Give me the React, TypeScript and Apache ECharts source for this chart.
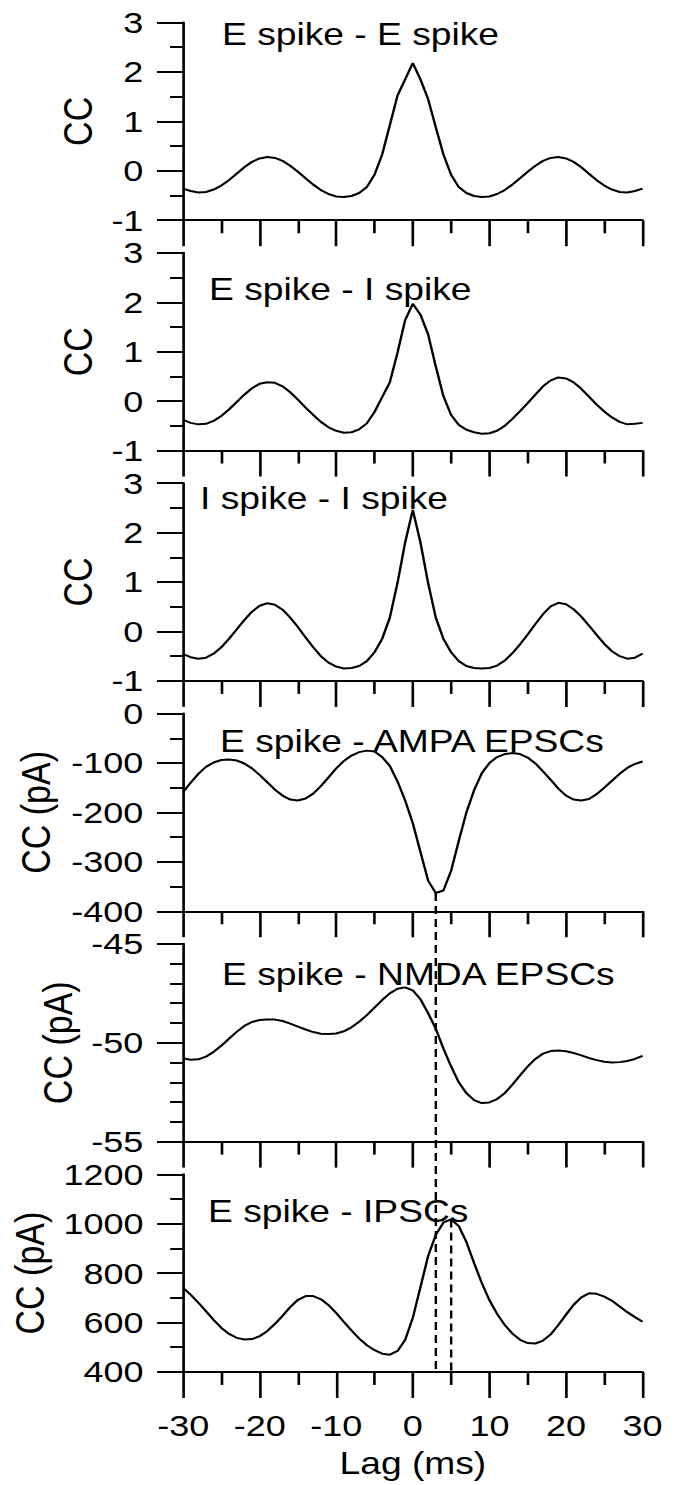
import React, { useEffect, useRef } from "react";
import * as echarts from "echarts";

// ---------- data (lag in ms, cross-correlations) ----------
const LAG_MS = [
  -30, -29, -28, -27, -26, -25, -24, -23, -22, -21,
  -20, -19, -18, -17, -16, -15, -14, -13, -12, -11,
  -10, -9, -8, -7, -6, -5, -4, -3, -2, -1,
  0,
  1, 2, 3, 4, 5, 6, 7, 8, 9, 10,
  11, 12, 13, 14, 15, 16, 17, 18, 19, 20,
  21, 22, 23, 24, 25, 26, 27, 28, 29, 30,
];

const EE_CC = [
  -0.36, -0.41, -0.44, -0.43, -0.38, -0.3, -0.19, -0.06, 0.07, 0.18,
  0.25, 0.28, 0.26, 0.2, 0.1, -0.02, -0.15, -0.28, -0.39, -0.47,
  -0.52, -0.53, -0.51, -0.45, -0.33, -0.08, 0.33, 0.92, 1.52, 1.85,
  2.18,
  1.85, 1.45, 0.88, 0.33, -0.08, -0.33, -0.45, -0.51, -0.53, -0.52,
  -0.47, -0.39, -0.28, -0.15, -0.02, 0.1, 0.2, 0.26, 0.28, 0.25,
  0.18, 0.07, -0.06, -0.19, -0.3, -0.38, -0.43, -0.44, -0.41, -0.36,
];

const EI_CC = [
  -0.38, -0.44, -0.47, -0.46, -0.4, -0.3, -0.17, -0.02, 0.13, 0.26,
  0.35, 0.38, 0.37, 0.3, 0.18, 0.03, -0.13, -0.28, -0.42, -0.53,
  -0.6, -0.64, -0.63, -0.57, -0.45, -0.22, 0.08, 0.38, 0.98, 1.64,
  1.97,
  1.75, 1.35, 0.7, 0.1, -0.28, -0.48, -0.58, -0.63, -0.66, -0.65,
  -0.6, -0.5, -0.36, -0.2, -0.04, 0.13, 0.3, 0.42, 0.48, 0.46,
  0.38, 0.25, 0.09, -0.07, -0.21, -0.33, -0.42, -0.47, -0.46, -0.44,
];

const II_CC = [
  -0.46, -0.52, -0.55, -0.53, -0.45, -0.32, -0.15, 0.04, 0.23, 0.4,
  0.52, 0.57, 0.54, 0.44, 0.28, 0.09, -0.12, -0.32, -0.5, -0.63,
  -0.71, -0.75, -0.74, -0.7, -0.6, -0.42, -0.15, 0.28, 0.98, 1.8,
  2.46,
  1.8, 0.98, 0.28, -0.15, -0.42, -0.6, -0.7, -0.74, -0.75, -0.74,
  -0.69, -0.59, -0.44, -0.26, -0.06, 0.15, 0.35, 0.51, 0.58, 0.55,
  0.45, 0.3, 0.12, -0.07, -0.25, -0.4, -0.5, -0.55, -0.53, -0.45,
];

const AMPA_CC = [
  -159, -140, -122, -108, -99, -94, -93, -95, -101, -111,
  -124, -139, -154, -166, -174, -176, -172, -162, -147, -129,
  -111, -96, -85, -78, -75, -77, -88, -106, -137, -176,
  -222,
  -280, -338, -363, -358, -318, -258, -200, -155, -121, -100,
  -88, -82, -80, -82, -89, -101, -117, -134, -152, -166,
  -174, -176, -173, -163, -150, -136, -122, -110, -102, -97,
];

const NMDA_CC = [
  -50.78, -50.86, -50.84, -50.7, -50.46, -50.15, -49.8, -49.45, -49.15, -48.95,
  -48.85, -48.82, -48.83, -48.9, -49.03, -49.18, -49.33, -49.46, -49.54, -49.56,
  -49.53, -49.42, -49.22, -48.94, -48.6, -48.22, -47.84, -47.5, -47.27, -47.2,
  -47.35,
  -47.8, -48.5, -49.3, -50.3, -51.2, -52.0, -52.55, -52.9, -53.05, -53.02,
  -52.85, -52.55, -52.12, -51.65, -51.2, -50.82, -50.55, -50.42, -50.39, -50.43,
  -50.52, -50.64, -50.77, -50.88, -50.96, -51.0, -50.98, -50.92, -50.82, -50.66,
];

const IPSC_CC = [
  740, 712, 680, 645, 610, 578, 554, 538, 531, 533,
  545, 566, 595, 628, 663, 692, 707, 707, 694, 670,
  638, 602, 567, 535, 508, 488, 474, 470, 485, 530,
  620,
  745, 870, 955, 1005, 1017, 990, 925, 840, 760, 690,
  635, 590, 555, 530, 517, 515, 527, 552, 590, 632,
  672, 702, 718, 716, 705, 688, 665, 642, 622, 603,
];

const SERIES_VALUES = [EE_CC, EI_CC, II_CC, AMPA_CC, NMDA_CC, IPSC_CC];
const PANEL_TITLES = [
  "E spike - E spike",
  "E spike - I spike",
  "I spike - I spike",
  "E spike - AMPA EPSCs",
  "E spike - NMDA EPSCs",
  "E spike - IPSCs",
];
const Y_NAMES = ["CC", "CC", "CC", "CC (pA)", "CC (pA)", "CC (pA)"];
const Y_MIN = [-1, -1, -1, -400, -55, 400];
const Y_MAX = [3, 3, 3, 0, -45, 1200];
const Y_INTERVAL = [1, 1, 1, 100, 5, 200];
const Y_MINOR_SPLIT = [2, 2, 2, 2, 5, 2];
const X_MIN = -30;
const X_MAX = 30;
const X_INTERVAL = 10;
const X_NAME = "Lag (ms)";
const AMPA_MIN_LAG = 3; // dashed marker lag (ms)
const IPSC_PEAK_LAG = 5; // dashed marker lag (ms)

// ---------- layout (chart coordinates, before the horizontal stretch) ----------
const STRETCH = 1.2;
const W = 676 / STRETCH;
const H = 1485;
const GRID_LEFT = 183 / STRETCH;
const GRID_RIGHT = W - 643 / STRETCH;
const GRID_TOP0 = 22.5;
const GRID_STEP = 230.35;
const GRID_H = 197.7;
const TITLE_LEFT = [222, 209, 200, 220, 222, 208].map((v) => v / STRETCH);
const TITLE_TOP = [19, 274, 483, 726, 959, 1196];
const Y_NAME_GAP = [53, 53, 53, 106, 85, 108];
const FONT = "'Liberation Sans', Arial, Helvetica, sans-serif";

export default function App() {
  const ref = useRef<HTMLDivElement>(null);

  useEffect(() => {
    if (!ref.current) return;
    const chart = echarts.init(ref.current, null, { renderer: "svg" });
    const black = "#000";
    const fmt = (v: number) => String(v);

    const grids = SERIES_VALUES.map((_, i) => ({
      left: GRID_LEFT,
      right: GRID_RIGHT,
      top: GRID_TOP0 + GRID_STEP * i,
      height: GRID_H,
    }));

    const xAxes = SERIES_VALUES.map((_, i) => ({
      gridIndex: i,
      type: "value",
      min: X_MIN,
      max: X_MAX,
      interval: X_INTERVAL,
      axisLine: { show: true, onZero: false, lineStyle: { color: black, width: 2 } },
      axisTick: { show: true, length: 26, lineStyle: { color: black, width: 2.2 } },
      minorTick: { show: true, splitNumber: 2, length: 13, lineStyle: { color: black, width: 2.2 } },
      splitLine: { show: false },
      minorSplitLine: { show: false },
      axisLabel: {
        show: i === SERIES_VALUES.length - 1,
        margin: 39,
        fontSize: 30,
        color: black,
        fontFamily: FONT,
        formatter: fmt,
        showMinLabel: true,
        showMaxLabel: true,
      },
      name: i === SERIES_VALUES.length - 1 ? X_NAME : "",
      nameLocation: "middle",
      nameGap: 76,
      nameTextStyle: { fontSize: 31, color: black, fontFamily: FONT },
    }));

    const yAxes = SERIES_VALUES.map((_, i) => ({
      gridIndex: i,
      type: "value",
      min: Y_MIN[i],
      max: Y_MAX[i],
      interval: Y_INTERVAL[i],
      axisLine: { show: true, onZero: false, lineStyle: { color: black, width: 2.2 } },
      axisTick: { show: true, length: 21.7, lineStyle: { color: black, width: 2 } },
      minorTick: {
        show: true,
        splitNumber: Y_MINOR_SPLIT[i],
        length: 10.8,
        lineStyle: { color: black, width: 2 },
      },
      splitLine: { show: false },
      minorSplitLine: { show: false },
      axisLabel: {
        margin: 33,
        fontSize: 30,
        color: black,
        fontFamily: FONT,
        formatter: fmt,
        showMinLabel: true,
        showMaxLabel: true,
      },
      name: Y_NAMES[i],
      nameLocation: "middle",
      nameGap: Y_NAME_GAP[i],
      nameTextStyle: { fontSize: 34, color: black, fontFamily: FONT },
    }));

    const series = SERIES_VALUES.map((vals, i) => ({
      type: "line",
      xAxisIndex: i,
      yAxisIndex: i,
      data: LAG_MS.map((x, j) => [x, vals[j]]),
      showSymbol: false,
      symbol: "none",
      silent: true,
      lineStyle: { color: black, width: 2 },
    }));

    const titles = PANEL_TITLES.map((t, i) => ({
      text: t,
      left: TITLE_LEFT[i],
      top: TITLE_TOP[i],
      padding: 0,
      textStyle: { fontSize: 31, fontWeight: "normal", color: black, fontFamily: FONT },
    }));

    chart.setOption({
      animation: false,
      backgroundColor: "#fff",
      title: titles,
      grid: grids,
      xAxis: xAxes,
      yAxis: yAxes,
      series,
    });

    // dashed markers placed through the axes' scales
    const iA = LAG_MS.indexOf(AMPA_MIN_LAG);
    const iP = LAG_MS.indexOf(IPSC_PEAK_LAG);
    const a1 = chart.convertToPixel({ gridIndex: 3 }, [AMPA_MIN_LAG, AMPA_CC[iA]]) as number[];
    const a2 = chart.convertToPixel({ gridIndex: 5 }, [AMPA_MIN_LAG, Y_MIN[5]]) as number[];
    const p1 = chart.convertToPixel({ gridIndex: 5 }, [IPSC_PEAK_LAG, IPSC_CC[iP]]) as number[];
    const p2 = chart.convertToPixel({ gridIndex: 5 }, [IPSC_PEAK_LAG, Y_MIN[5]]) as number[];
    const dashStyle = { stroke: black, lineWidth: 2, lineDash: [8, 5] };
    chart.setOption({
      graphic: [
        { type: "line", z: 10, shape: { x1: a1[0], y1: a1[1], x2: a2[0], y2: a2[1] }, style: dashStyle },
        { type: "line", z: 10, shape: { x1: p1[0], y1: p1[1], x2: p2[0], y2: p2[1] }, style: dashStyle },
      ],
    });

    return () => chart.dispose();
  }, []);

  return (
    <div
      ref={ref}
      style={{
        position: "absolute",
        left: 0,
        top: 0,
        width: W,
        height: H,
        transform: `scaleX(${STRETCH})`,
        transformOrigin: "0 0",
        background: "#fff",
      }}
    />
  );
}
